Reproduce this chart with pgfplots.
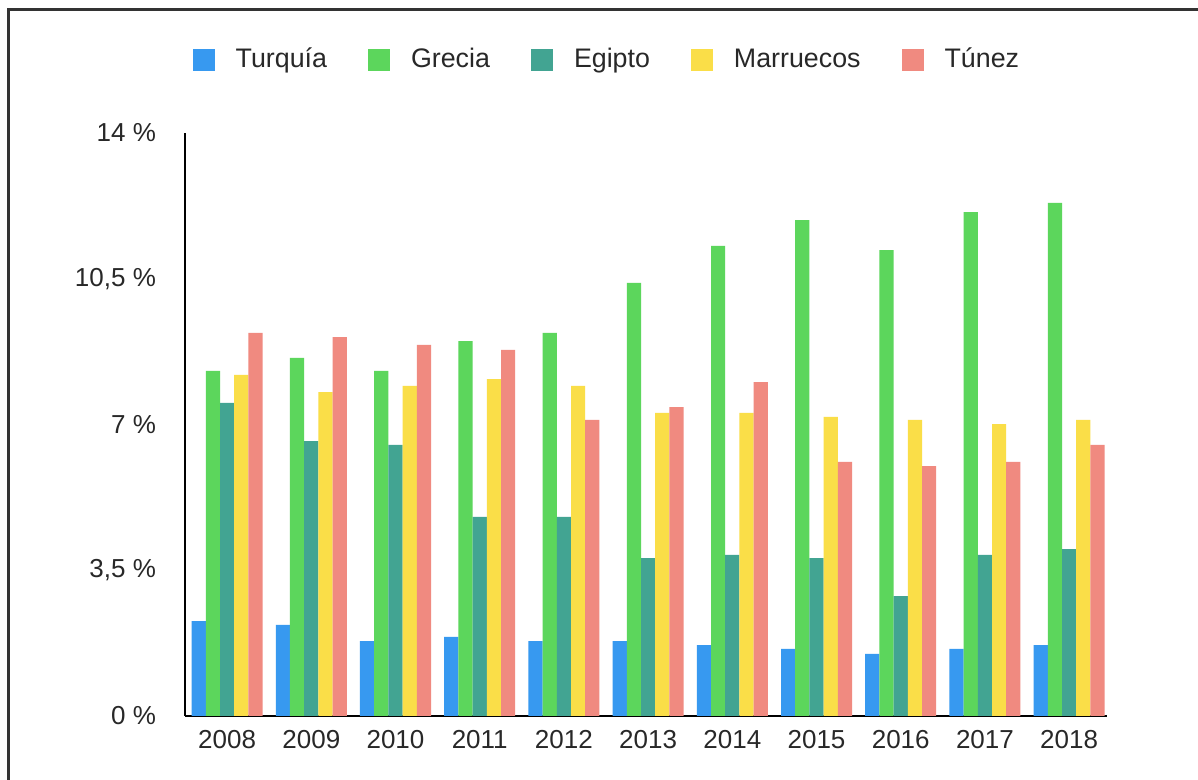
\documentclass[border=0pt]{standalone}
\usepackage{pgfplots}
\usepackage{pgfplotstable}
\pgfplotsset{compat=1.18}
\usepackage{fontspec}
\setmainfont{Liberation Sans}
\definecolor{cTur}{RGB}{55,153,240}
\definecolor{cGre}{RGB}{92,214,92}
\definecolor{cEgi}{RGB}{66,164,146}
\definecolor{cMar}{RGB}{250,222,72}
\definecolor{cTun}{RGB}{240,138,128}
\definecolor{txt}{RGB}{40,40,40}
\pgfplotstableread{
x tur gre egi mar tun
0 2.28 8.29 7.52 8.19 9.20
1 2.19 8.60 6.60 7.78 9.10
2 1.80 8.29 6.51 7.93 8.91
3 1.90 9.00 4.78 8.09 8.79
4 1.80 9.20 4.78 7.93 7.11
5 1.80 10.40 3.79 7.28 7.42
6 1.70 11.29 3.87 7.28 8.02
7 1.61 11.91 3.79 7.18 6.10
8 1.49 11.19 2.88 7.11 6.00
9 1.61 12.10 3.87 7.01 6.10
10 1.70 12.32 4.01 7.11 6.51
}\datatable
\begin{document}
\begin{tikzpicture}
\path[use as bounding box] (0,0) rectangle (599pt,390pt);
\fill[white] (0,0) rectangle (599pt,390pt);
\draw[line width=1.3pt, color=black!80] (4.25pt,-2pt) -- (4.25pt,385.2pt) -- (602pt,385.2pt);
\begin{axis}[
  at={(92.5pt,32pt)}, anchor=south west,
  scale only axis, width=461pt, height=291.5pt,
  ybar=0pt, bar width=0.1687,
  xmin=-0.5, xmax=10.45, ymin=0, ymax=14,
  axis x line=bottom, axis y line=left,
  axis line style={-, line width=1pt, black},
  major tick length=0pt,
  xtick={0,...,10},
  xticklabels={2008,2009,2010,2011,2012,2013,2014,2015,2016,2017,2018},
  ytick={0,3.5,7,10.5,14},
  yticklabels={{0 \%},{3,5 \%},{7 \%},{10,5 \%},{14 \%}},
  tick label style={font=\fontsize{13}{15}\selectfont, text=txt},
  yticklabel style={xshift=-11pt},
  xticklabel style={yshift=-3.5pt},
  legend columns=5,
  legend cell align=left,
  legend style={at={(0.4565,1.126)}, anchor=center, draw=none, fill=none,
    font=\fontsize{13.4}{15}\selectfont, text=txt,
    inner sep=0pt, column sep=0pt, nodes={inner sep=0pt},
    /tikz/every odd column/.append style={column sep=10.5pt},
    /tikz/every even column/.append style={column sep=20.5pt}},
  legend image code/.code={\fill[#1] (0pt,-5.5pt) rectangle (11pt,5.5pt);},
  every axis plot/.append style={draw=none},
]
\addplot[fill=cTur] table[x=x,y=tur] {\datatable};
\addplot[fill=cGre] table[x=x,y=gre] {\datatable};
\addplot[fill=cEgi] table[x=x,y=egi] {\datatable};
\addplot[fill=cMar] table[x=x,y=mar] {\datatable};
\addplot[fill=cTun] table[x=x,y=tun] {\datatable};
\legend{Turquía,Grecia,Egipto,Marruecos,Túnez}
\end{axis}
\end{tikzpicture}
\end{document}
